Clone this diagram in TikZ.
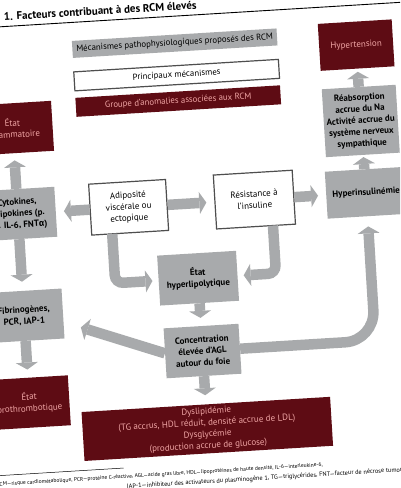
\documentclass[tikz,border=0pt]{standalone}
\usepackage{fontspec}
\setmainfont{PT Sans}
\newfontfamily\greekfont{Fira Sans}
\usetikzlibrary{arrows.meta}

\definecolor{boxgray}{RGB}{168,170,172}
\definecolor{darkwine}{RGB}{94,12,20}
\definecolor{pinktext}{RGB}{240,165,165}
\definecolor{edgegray}{RGB}{78,78,78}

\begin{document}
\begin{tikzpicture}[x=1pt, y=-1pt,
	graybox/.style={fill=boxgray, text=black, align=center, inner sep=1pt, font=\fontsize{9}{11.5}\selectfont\bfseries},
	whitebox/.style={draw=edgegray, line width=1.2pt, fill=white, text=black, align=center, inner sep=1pt, font=\fontsize{9}{11.5}\selectfont},
	winebox/.style={fill=darkwine, text=pinktext, align=center, inner sep=1pt, font=\fontsize{9}{11.5}\selectfont},
	legfont/.style={font=\fontsize{8.8}{10}\selectfont, minimum width=205pt},
	flowarrow/.style={draw=boxgray, line width=10.5pt, -{Triangle[width=22pt,length=7pt,line width=0pt]}}]
	% Page
	\useasboundingbox (0,0) rectangle (400,488);
	\fill[white] (0,0) rectangle (400,488);
	\clip (0,0) rectangle (400,488);
	\begin{scope}[rotate around={3.5:(200,244)}, transform shape]
		% Title
		\node[anchor=base west, inner sep=0pt, font=\fontsize{11}{13}\selectfont\bfseries] (title) at (18,9) {1. Facteurs contribuant à des RCM élevés};
		\coordinate (ruleL) at (-30,15);
		\coordinate (ruleR) at (430,15);
		\draw[line width=0.9pt] (ruleL) -- (ruleR);
		% Legend
		\node[graybox, legfont, minimum height=17pt] (legmech) at (187,42) {Mécanismes pathophysiologiques proposés des RCM};
		\node[whitebox, legfont, minimum height=19pt] (legmain) at (187,74) {Principaux mécanismes};
		\node[winebox, legfont, minimum height=19pt] (leggroup) at (187,100) {Groupe d’anomalies associées aux RCM};
		% Right column
		\node[winebox, minimum width=74pt, minimum height=47pt] (hypert) at (368,55) {Hypertension};
		\node[graybox, minimum width=74pt, minimum height=68pt] (reab) at (368,131) {Réabsorption\\accrue du Na\\Activité accrue du\\système nerveux\\sympathique};
		\node[graybox, minimum width=80pt, minimum height=47pt] (hyperins) at (369,203) {Hyperinsulinémie};
		% Middle row
		\node[whitebox, minimum width=79pt, minimum height=54pt] (resist) at (257,203) {Résistance à\\l’insuline};
		\node[whitebox, minimum width=77pt, minimum height=51pt] (adipo) at (131,203) {Adiposité\\viscérale ou\\ectopique};
		% Left column
		\node[winebox, minimum width=80pt, minimum height=50pt] (inflam) at (20,117) {État\\inflammatoire};
		\node[graybox, minimum width=76pt, minimum height=50pt] (cyto) at (20,203) {Cytokines,\\adipokines (p.\\ex. IL-6, FNT{\greekfont\bfseries α})};
		\node[graybox, minimum width=78pt, minimum height=50pt] (fibrino) at (20,305) {Fibrinogènes,\\PCR, IAP-1};
		\node[winebox, minimum width=80pt, minimum height=50pt] (prothrom) at (20,392) {État\\prothrombotique};
		% Centre column
		\node[graybox, minimum width=79pt, minimum height=50pt] (hyperlip) at (196,278) {État\\hyperlipolytique};
		\node[graybox, minimum width=75pt, minimum height=50pt] (agl) at (196,351) {Concentration\\élevée d’AGL\\autour du foie};
		\node[winebox, minimum width=249pt, minimum height=49pt] (dyslip) at (196,429) {Dyslipidémie\\(TG accrus, HDL réduit, densité accrue de LDL)\\Dysglycémie\\(production accrue de glucose)};
		% Bends
		\coordinate (adipofoot) at (113,228.5);
		\coordinate (adipoknee) at (113,278);
		\coordinate (resistfoot) at (274,230);
		\coordinate (resistknee) at (274,278);
		\coordinate (aglknee) at (369,351);
		\coordinate (fibtip) at (76,320);
		% Arrows
		\draw[flowarrow, shorten >=3pt] (reab) -- (hypert);
		\draw[flowarrow, shorten >=2pt] (hyperins) -- (reab);
		\draw[flowarrow, shorten >=8pt] (resist) -- (hyperins);
		\draw[flowarrow, shorten >=8pt] (adipo) -- (resist);
		\draw[flowarrow, shorten >=8pt] (adipo) -- (cyto);
		\draw[flowarrow, shorten >=7pt] (cyto) -- (inflam);
		\draw[flowarrow, shorten >=9pt] (cyto) -- (fibrino);
		\draw[flowarrow, shorten >=8pt] (fibrino) -- (prothrom);
		\draw[flowarrow, shorten >=8pt] (hyperlip) -- (agl);
		\draw[flowarrow, shorten >=9pt] (agl) -- (dyslip);
		\draw[flowarrow, rounded corners=8pt, shorten >=6pt] (adipofoot) -- (adipoknee) -- (hyperlip);
		\draw[flowarrow, rounded corners=8pt, shorten >=6pt] (resistfoot) -- (resistknee) -- (hyperlip);
		\draw[flowarrow, rounded corners=30pt, shorten >=10pt] (agl.east) -- (aglknee) -- (hyperins);
		\draw[flowarrow] (agl.west) -- (fibtip);
		% Footnote
		\coordinate (footL) at (-20,463);
		\coordinate (footR) at (110,463);
		\draw[line width=0.5pt] (footL) -- (footR);
		\node[anchor=west, inner sep=0pt, font=\fontsize{5.5}{7}\selectfont] (footA) at (-18,472) {RCM—risque cardiométabolique, PCR—protéine C-réactive, AGL—acide gras libre, HDL—lipoprotéines de haute densité, IL-6—interleukine-6,};
		\node[anchor=west, inner sep=0pt, font=\fontsize{6.3}{7}\selectfont] (footB) at (112,482) {IAP-1—inhibiteur des activateurs du plasminogène 1, TG—triglycérides, FNT—facteur de nécrose tumorale};
	\end{scope}
\end{tikzpicture}
\end{document}
